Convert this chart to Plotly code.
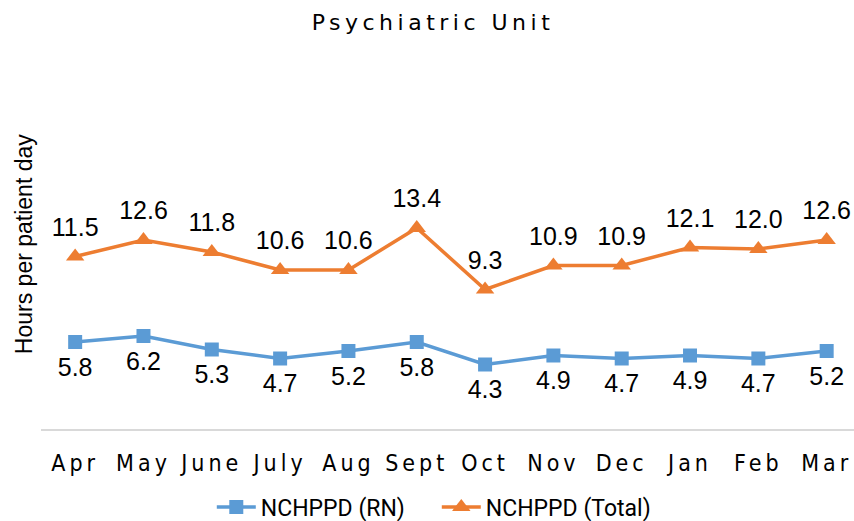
import plotly.graph_objects as go

months = ["Apr", "May", "June", "July", "Aug", "Sept", "Oct", "Nov", "Dec", "Jan", "Feb", "Mar"]
rn = [5.8, 6.2, 5.3, 4.7, 5.2, 5.8, 4.3, 4.9, 4.7, 4.9, 4.7, 5.2]
total = [11.5, 12.6, 11.8, 10.6, 10.6, 13.4, 9.3, 10.9, 10.9, 12.1, 12.0, 12.6]

label_font = dict(family="Liberation Sans, Arial, sans-serif", size=25, color="#000000")
cond_font = "DejaVu Sans Condensed, Liberation Sans Narrow, sans-serif"
BLUE, ORANGE = "#5B9BD5", "#ED7D31"

fig = go.Figure()
fig.add_trace(go.Scatter(
    x=months, y=rn, name="NCHPPD (RN)", mode="lines+markers",
    line=dict(color=BLUE, width=3.5),
    marker=dict(symbol="square", size=14, color=BLUE),
))
fig.add_trace(go.Scatter(
    x=months, y=total, name="NCHPPD (Total)", mode="lines+markers",
    line=dict(color=ORANGE, width=3.5),
    marker=dict(symbol="triangle-up", size=16, color=ORANGE),
))
# data labels (invisible larger markers give the label gap)
for vals, pos in ((rn, "bottom center"), (total, "top center")):
    fig.add_trace(go.Scatter(
        x=months, y=vals, mode="markers+text", showlegend=False, hoverinfo="skip",
        marker=dict(size=22, opacity=0),
        text=[f"{v:.1f}" for v in vals], textposition=pos,
        textfont=label_font, cliponaxis=False,
    ))

fig.update_layout(
    width=854, height=521,
    paper_bgcolor="white", plot_bgcolor="white",
    margin=dict(l=41, r=0, t=189, b=92),
    title=dict(text="Psychiatric Unit", x=0.507, xanchor="center", y=0.958, yanchor="middle",
               font=dict(family="DejaVu Sans, sans-serif", size=22, color="#000000")),
    showlegend=True,
    legend=dict(orientation="h", xref="container", yref="container",
                x=0.248, xanchor="left", y=0.027, yanchor="middle",
                font=dict(family="Roboto, Arial, sans-serif", size=23, color="#000000"),
                itemwidth=39, entrywidth=171, entrywidthmode="pixels", traceorder="normal"),
    xaxis=dict(type="category", range=[-0.5, 11.4], showgrid=False, zeroline=False,
               showline=True, linecolor="#D9D9D9", linewidth=1.5, ticks="",
               automargin=False,
               tickfont=dict(family=cond_font, size=23, color="#000000"),
               ticklabelstandoff=13),
    yaxis=dict(range=[0, 16], showgrid=False, zeroline=False, showline=False,
               showticklabels=False, ticks="", automargin=False),
)
fig.add_annotation(text="Hours per patient day", textangle=-90, xref="paper", yref="paper",
                   x=-0.021, y=0.77, xanchor="center", yanchor="middle", showarrow=False,
                   font=dict(family="Liberation Sans, Arial, sans-serif", size=23, color="#000000"))

post = """
document.body.style.margin = '0';
var gd = document.getElementById('{plot_id}');
function spacing() {
  gd.querySelectorAll('.gtitle').forEach(function(t){ t.style.letterSpacing = '4.5px'; });
  gd.querySelectorAll('.xtick text').forEach(function(t){ t.style.letterSpacing = '4px'; });
}
spacing();
gd.on('plotly_afterplot', spacing);
"""
fig.write_html("out.html", post_script=post, config={"displayModeBar": False})
